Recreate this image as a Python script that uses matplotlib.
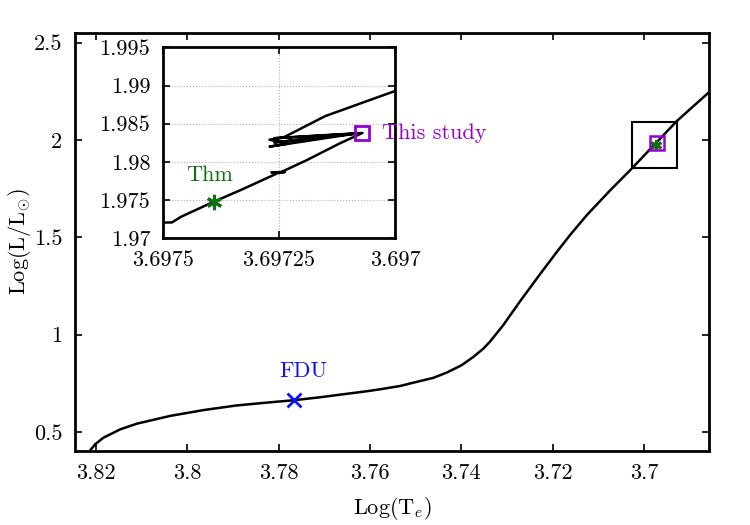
import matplotlib
matplotlib.use('Agg')
import matplotlib.pyplot as plt
from matplotlib.patches import Rectangle

# Computer Modern look, like the LaTeX terminal
plt.rcParams['font.family'] = 'serif'
plt.rcParams['font.serif'] = ['cmr10']
plt.rcParams['mathtext.fontset'] = 'cm'
plt.rcParams['axes.formatter.use_mathtext'] = True

# evolutionary track (full view)
track_te = [3.8217, 3.8202, 3.8184, 3.8147, 3.8111, 3.8038, 3.7965, 3.7892,
            3.7819, 3.7766, 3.7709, 3.7680, 3.7607, 3.7578, 3.7534, 3.7505,
            3.7461, 3.7432, 3.7400, 3.7374, 3.7352, 3.7337, 3.7308, 3.7271,
            3.7228, 3.7191, 3.7162, 3.7125, 3.7074, 3.7027, 3.6994, 3.6928,
            3.6859, 3.6840]
track_l = [0.393, 0.436, 0.470, 0.513, 0.542, 0.582, 0.612, 0.636,
           0.652, 0.663, 0.678, 0.687, 0.709, 0.719, 0.736, 0.753,
           0.778, 0.805, 0.842, 0.885, 0.928, 0.965, 1.050, 1.173,
           1.310, 1.425, 1.512, 1.615, 1.742, 1.853, 1.935, 2.098,
           2.243, 2.280]

# zoomed part of the track (inset)
zoom_te = [3.69752, 3.69748, 3.69746, 3.69739, 3.69733, 3.697255, 3.697266,
           3.697237, 3.69725, 3.69719, 3.697119, 3.69707, 3.69726, 3.69708,
           3.69726, 3.69709, 3.69727, 3.69723, 3.69727, 3.69724, 3.69715,
           3.69700, 3.69690]
zoom_l = [1.97204, 1.97208, 1.97283, 1.97479, 1.97637, 1.97846, 1.97864,
          1.97868, 1.97852, 1.98023, 1.98242, 1.98379, 1.98310, 1.98372,
          1.98255, 1.98366, 1.98200, 1.98240, 1.98290, 1.98320, 1.98600,
          1.98928, 1.99100]

# special points
fdu = (3.7766, 0.662)
thm = (3.69739, 1.97479)
study = (3.69707, 1.98379)

# zoom box drawn on the main plot
box_te = [3.6928, 3.7027]
box_l = [1.858, 2.094]

main_xticks = [3.82, 3.8, 3.78, 3.76, 3.74, 3.72, 3.7]
main_xlabels = ['3.82', '3.8', '3.78', '3.76', '3.74', '3.72', '3.7']
main_yticks = [0.5, 1, 1.5, 2, 2.5]
main_ylabels = ['0.5', '1', '1.5', '2', '2.5']
ins_xticks = [3.6975, 3.69725, 3.697]
ins_xlabels = ['3.6975', '3.69725', '3.697']
ins_yticks = [1.97, 1.975, 1.98, 1.985, 1.99, 1.995]
ins_ylabels = ['1.97', '1.975', '1.98', '1.985', '1.99', '1.995']

BLUE = '#1010ff'
GREEN = '#0f700f'
VIOLET = '#9400d3'
FS = 16


def style_axes(ax, lw):
    for sp in ax.spines.values():
        sp.set_linewidth(lw)
    ax.tick_params(direction='in', top=True, right=True, length=5,
                   width=1.2, labelsize=FS, pad=9)


fig = plt.figure(figsize=(7.5, 5.25), dpi=100)
ax = fig.add_axes([0.1, 0.141, 0.8453, 0.7967])

ax.plot(track_te, track_l, color='black', lw=1.8)
ax.plot(*fdu, marker='x', color=BLUE, ms=10, mew=2)
ax.text(fdu[0] - 0.002, fdu[1] + 0.1, 'FDU', color=BLUE, fontsize=FS,
        ha='center', va='bottom')
ax.plot(*thm, marker=(6, 2, 0), color=GREEN, ms=8, mew=2)
ax.plot(*study, marker='s', mfc='none', mec=VIOLET, ms=10, mew=1.8)
ax.add_patch(Rectangle((box_te[0], box_l[0]), box_te[1] - box_te[0],
                       box_l[1] - box_l[0], fill=False, lw=1.5, ec='black'))

ax.set_xlim(3.8246, 3.6858)
ax.set_ylim(0.402, 2.551)
ax.set_xticks(main_xticks)
ax.set_xticklabels(main_xlabels)
ax.set_yticks(main_yticks)
ax.set_yticklabels(main_ylabels)
ax.set_xlabel(r'Log(T$_e$)', fontsize=FS, labelpad=9)
ax.set_ylabel(r'Log(L/L$_{\odot}$)', fontsize=FS, labelpad=1)
style_axes(ax, 2.0)

# inset with the zoomed track
axin = fig.add_axes([0.2169, 0.5461, 0.3098, 0.3638])
axin.grid(True, color='#b0b0b0', ls=':', lw=0.8)
axin.plot(zoom_te, zoom_l, color='black', lw=1.8)
axin.plot(*thm, marker=(6, 2, 0), color=GREEN, ms=11, mew=2.2)
axin.plot(*study, marker='s', mfc='none', mec=VIOLET, ms=10, mew=2)
axin.text(thm[0] + 0.00001, thm[1] + 0.0022, 'Thm', color=GREEN,
          fontsize=FS, ha='center', va='bottom')
axin.text(study[0] - 0.000042, study[1], 'This study', color=VIOLET,
          fontsize=FS, ha='left', va='center', clip_on=False)
axin.set_xlim(3.6975, 3.697)
axin.set_ylim(1.97, 1.995)
axin.set_xticks(ins_xticks)
axin.set_xticklabels(ins_xlabels)
axin.set_yticks(ins_yticks)
axin.set_yticklabels(ins_ylabels)
style_axes(axin, 2.0)

fig.savefig('out.png', dpi=100)
